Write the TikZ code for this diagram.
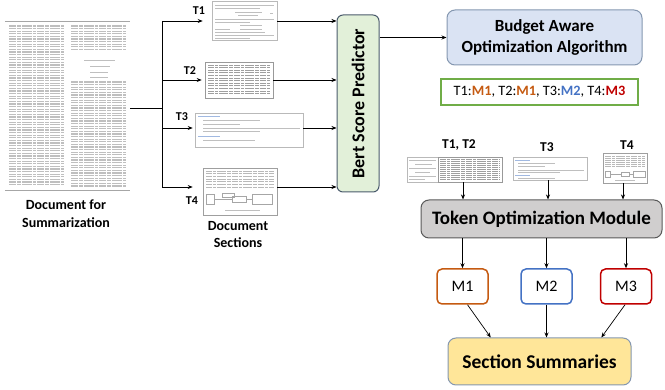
\documentclass[tikz,border=0pt]{standalone}
\usepackage{fontspec}
\setmainfont{Carlito}
\usetikzlibrary{arrows.meta,calc}
\definecolor{bertf}{HTML}{E2F0D9}
\definecolor{bertb}{HTML}{4A5B6C}
\definecolor{budf}{HTML}{DAE3F3}
\definecolor{budb}{HTML}{8497B0}
\definecolor{grn}{HTML}{70AD47}
\definecolor{orn}{HTML}{C55A11}
\definecolor{blu}{HTML}{4472C4}
\definecolor{rd}{HTML}{C00000}
\definecolor{tokf}{HTML}{D0CECE}
\definecolor{tokb}{HTML}{595959}
\definecolor{yel}{HTML}{FFE699}
\newcommand\mytxt[6][]{\foreach \yy in {#4,#5,...,#6} \draw[txl,#1] (#2,\yy) -- (#3,\yy);}
\begin{document}
\begin{tikzpicture}[x=1pt,y=-1pt,
  arr/.style={-{Stealth[length=5pt,width=4pt]}, line width=0.7pt},
  ln/.style={line width=0.7pt},
  tl/.style={font=\bfseries\fontsize{12}{13}\selectfont, inner sep=0pt},
  tr/.style={font=\bfseries\fontsize{13.5}{15}\selectfont, inner sep=0pt},
  pg/.style={draw=gray!55, fill=white, line width=0.6pt, inner sep=0pt},
  txl/.style={gray!50, line width=0.8pt},
  dk/.style={gray!75, line width=0.9pt, dash pattern=on 6pt off 1pt on 3pt off 1pt on 9pt off 1pt on 4pt off 1pt},
  wd/.style={dash pattern=on 7pt off 1pt on 4pt off 1pt on 10pt off 1pt on 3pt off 1pt},
  mbox/.style={draw, fill=white, rounded corners=5pt, line width=1.5pt, minimum width=51pt, minimum height=35pt, font=\fontsize{16}{18}\selectfont},
  big/.style={rounded corners=8pt, line width=1pt, align=center, font=\bfseries\fontsize{17}{20.5}\selectfont}
]
\useasboundingbox (0,0) rectangle (665,390);

% ---------- source document ----------
\node[inner sep=0pt, minimum width=125pt, minimum height=168pt] (doc) at (67.5,106) {};
\draw[gray!70, line width=1pt] (doc.north west) -- (doc.north east);
\draw[gray!70, line width=1pt] (doc.south west) -- (doc.south east);
\mytxt[wd, gray!50, line width=1.1pt]{9}{64}{26}{28.6}{187}
\mytxt[wd, gray!50, line width=1.1pt]{71}{126}{26}{28.6}{52}
\draw[txl] (84,60) -- (115,60); \draw[txl] (90,66) -- (110,66);
\draw[txl] (90,72) -- (108,72); \draw[txl] (90,77) -- (108,77);
\mytxt[wd, gray!50, line width=1.1pt]{71}{126}{82}{84.6}{187}
\node[font=\bfseries\fontsize{14}{18}\selectfont, align=center] (cap) at (66,214) {Document for\\Summarization};

% ---------- sections ----------
\node[pg, minimum width=65pt, minimum height=39pt] (s1) at (244.5,20.5) {};
\draw[txl] (215,5)--(274,5); \draw[txl] (215,8)--(260,8);
\draw[txl] (235,12)--(262,12); \draw[txl] (238,15)--(258,15); \draw[txl] (270,13)--(273,13);
\draw[txl] (215,19)--(274,19); \draw[txl] (215,22)--(250,22);
\draw[txl] (240,25)--(262,25);
\draw[txl] (215,29)--(230,29); \draw[txl] (240,29)--(262,29);
\draw[txl] (215,32)--(265,32); \draw[txl] (215,35)--(274,35); \draw[txl] (215,38)--(250,38);

\node[pg, draw=gray!80, minimum width=68pt, minimum height=36pt] (s2) at (239,80) {};
\mytxt[dk]{208}{270}{65}{67.6}{96}

\node[pg, minimum width=108pt, minimum height=34pt] (s3) at (249,130) {};
\draw[txl, blu!50] (198,116)--(220,116);
\draw[txl] (203,120)--(260,120); \draw[txl] (203,124)--(240,124);
\draw[txl] (203,128)--(300,128); \draw[txl] (203,131)--(260,131);
\draw[txl, blu!50] (198,136)--(220,136);
\draw[txl] (203,140)--(255,140);

\node[pg, draw=gray!75, minimum width=74pt, minimum height=47pt] (s4) at (240,191.5) {};
\mytxt[dk, gray!55]{206}{274}{171}{173.7}{188}
\draw[gray!70, line width=0.5pt] (206,194) rectangle (214,204);
\draw[gray!70, line width=0.5pt] (214,199) -- (232,199);
\draw[gray!70, line width=0.5pt] (222,193) rectangle (234,197);
\draw[gray!70, line width=0.5pt] (232,196) rectangle (246,202);
\draw[gray!70, line width=0.5pt] (246,199) -- (252,199);
\draw[gray!70, line width=0.5pt] (252,194) rectangle (272,204);
\draw[txl] (225,210)--(260,210);

\node[tl] (t1) at (199,11) {T1};
\node[tl] (t2) at (190,71) {T2};
\node[tl] (t3) at (182,117) {T3};
\node[tl] (t4) at (192,201) {T4};
\node[font=\bfseries\fontsize{14}{17}\selectfont, align=center] (secs) at (238,235) {Document\\Sections};

% branching connectors
\coordinate (bm) at (162,108);
\coordinate (bt) at (162,21);
\coordinate (b2) at (162,80);
\coordinate (b3) at (162,128);
\coordinate (bb) at (162,187);
\draw[ln] (doc.east |- bm) -- (bm);
\draw[ln] (bt) -- (bb);
\draw[arr, shorten >=9pt] (bt) -- (bt -| s1.west);
\draw[arr, shorten >=3pt] (b2) -- (b2 -| s2.west);
\draw[arr, shorten >=2pt] (b3) -- (b3 -| s3.west);
\draw[arr, shorten >=10pt] (bb) -- (bb -| s4.west);

% ---------- Bert Score Predictor ----------
\node[draw=bertb, fill=bertf, rounded corners=6pt, line width=1pt, minimum width=42pt, minimum height=177pt] (bert) at (358,103.5) {};
\node[rotate=90, font=\bfseries\fontsize{18}{21}\selectfont] (bertt) at (bert.center) {Bert Score Predictor};
\draw[arr] (s1.east |- bt) -- (bt -| bert.west);
\draw[arr] (s2.east |- b2) -- (b2 -| bert.west);
\draw[arr] (s3.east |- b3) -- (b3 -| bert.west);
\draw[arr] (s4.east |- bb) -- (bb -| bert.west);

% ---------- Budget box ----------
\node[big, draw=budb, fill=budf, minimum width=195pt, minimum height=55pt] (bud) at (544.5,37.5) {Budget Aware\\Optimization Algorithm};
\draw[arr] (bert.east |- bud.west) -- (bud.west);

\node[draw=grn, line width=1.5pt, minimum width=197pt, minimum height=26pt, font=\fontsize{14.3}{16}\selectfont] (asg) at (539.5,92) {T1:\textcolor{orn}{\textbf{M1}}, T2:\textcolor{orn}{\textbf{M1}}, T3:\textcolor{blu}{\textbf{M2}}, T4:\textcolor{rd}{\textbf{M3}}};

% ---------- grouped sections ----------
\node[tr] (l12) at (459,145) {T1, T2};
\node[tr] (l3) at (547,147) {T3};
\node[tr] (l4) at (627,145) {T4};

\node[pg, minimum width=31pt, minimum height=25pt] (q1) at (422.5,169.5) {};
\draw[txl, line width=0.5pt] (409,160)--(436,160); \draw[txl, line width=0.5pt] (415,164)--(432,164);
\draw[txl, line width=0.5pt] (409,168)--(436,168); \draw[txl, line width=0.5pt] (415,172)--(430,172);
\draw[txl, line width=0.5pt] (409,176)--(436,176); \draw[txl, line width=0.5pt] (409,179)--(425,179);
\node[pg, draw=gray!80, minimum width=64pt, minimum height=25pt] (q2) at (470,169.5) {};
\mytxt[dk, line width=0.7pt]{440}{500}{159.5}{161.5}{181}

\node[pg, minimum width=74pt, minimum height=23pt] (q3) at (550,168.5) {};
\draw[txl, blu!50, line width=0.5pt] (515,160)--(530,160);
\draw[txl, line width=0.5pt] (518,163)--(555,163); \draw[txl, line width=0.5pt] (518,166)--(545,166);
\draw[txl, line width=0.5pt] (518,170)--(584,170); \draw[txl, line width=0.5pt] (518,172.5)--(560,172.5);
\draw[txl, blu!50, line width=0.5pt] (515,175.5)--(530,175.5);
\draw[txl, line width=0.5pt] (518,178)--(555,178);

\node[pg, draw=gray!75, minimum width=44pt, minimum height=30pt] (q4) at (625,168) {};
\mytxt[dk, gray!55, line width=0.6pt]{605}{645}{156}{158}{166}
\draw[gray!70, line width=0.4pt] (605,171) rectangle (610,177);
\draw[gray!70, line width=0.4pt] (610,174) -- (621,174);
\draw[gray!70, line width=0.4pt] (621,172) rectangle (629,176);
\draw[gray!70, line width=0.4pt] (629,174) -- (633,174);
\draw[gray!70, line width=0.4pt] (633,171) rectangle (645,177);
\draw[txl, line width=0.4pt] (615,180.5)--(635,180.5);

% ---------- Token Optimization Module ----------
\node[big, draw=tokb, fill=tokf, minimum width=241pt, minimum height=38pt, font=\bfseries\fontsize{19}{22}\selectfont] (tok) at (541.5,219) {Token Optimization Module};
\coordinate (c1) at (463,0);
\coordinate (c2) at (548,0);
\coordinate (c3) at (623,0);
\draw[arr] (c1 |- q2.south) -- (c1 |- tok.north);
\draw[arr] (c2 |- q3.south) -- (c2 |- tok.north);
\draw[arr] (c3 |- q4.south) -- (c3 |- tok.north);

% ---------- models ----------
\node[mbox, draw=orn] (m1) at (462.5,286.5) {M1};
\node[mbox, draw=blu] (m2) at (546.5,286.5) {M2};
\node[mbox, draw=rd] (m3) at (626,286.5) {M3};
\draw[arr] (m1.north |- tok.south) -- (m1.north);
\draw[arr] (m2.north |- tok.south) -- (m2.north);
\draw[arr] (m3.north |- tok.south) -- (m3.north);

% ---------- Section Summaries ----------
\node[big, draw=budb, fill=yel, minimum width=183pt, minimum height=47pt, font=\bfseries\fontsize{19.5}{22}\selectfont] (sum) at (539.5,361.5) {Section Summaries};
\draw[arr] ($(m1.south)+(5,0)$) -- ($(sum.north west)!0.235!(sum.north east)$);
\draw[arr] (m2.south) -- (m2.south |- sum.north);
\draw[arr] ($(m3.south)+(-1,0)$) -- ($(sum.north west)!0.836!(sum.north east)$);
\end{tikzpicture}
\end{document}
